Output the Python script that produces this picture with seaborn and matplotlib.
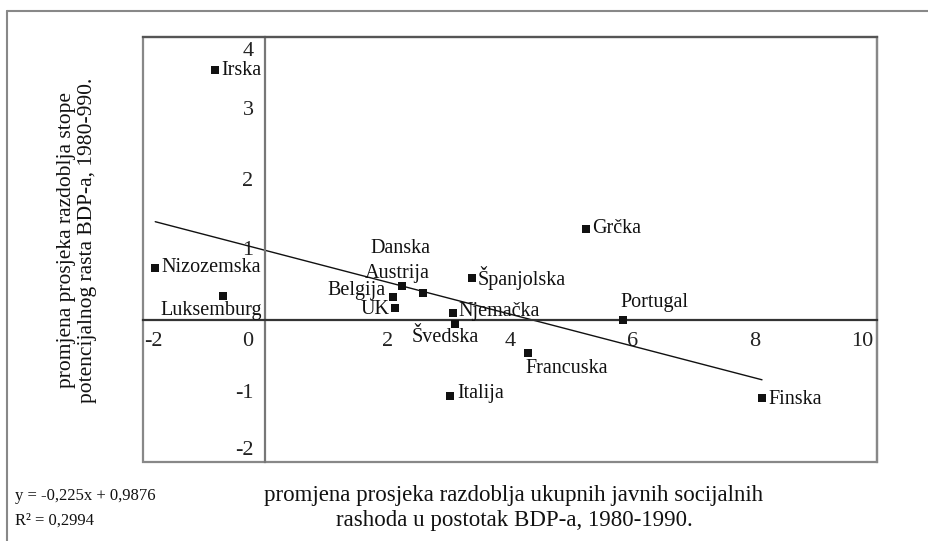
import matplotlib
matplotlib.use('Agg')
import matplotlib.pyplot as plt
import matplotlib.transforms as mtransforms
from matplotlib.patches import Rectangle
from matplotlib.lines import Line2D
import seaborn as sns

# podaci (procjena s grafikona)
zemlje = ['Irska', 'Nizozemska', 'Luksemburg', 'Belgija', 'UK', 'Danska', 'Austrija',
          'Španjolska', 'Njemačka', 'Švedska', 'Italija', 'Francuska', 'Grčka',
          'Portugal', 'Finska']
socijalni_rashodi = [-0.82, -1.80, -0.69, 2.08, 2.12, 2.24, 2.57,
                     3.38, 3.07, 3.10, 3.02, 4.30, 5.24, 5.85, 8.12]
rast_bdp = [3.53, 0.74, 0.35, 0.33, 0.17, 0.48, 0.39,
            0.60, 0.11, -0.05, -1.07, -0.46, 1.29, 0.01, -1.09]

# položaj oznaka u odnosu na točku (pikseli) i poravnanje
pomaci = [(6, 0), (6, 0), (39, -15), (-7, 6), (-5, -1), (-2, 38), (-25, 19),
          (6, 0), (5, 1), (-10, -14), (7, 3), (-3, -16), (6, 0), (-3, 17), (6, -2)]
poravnanje = ['left', 'left', 'right', 'right', 'right', 'center', 'center',
              'left', 'left', 'center', 'left', 'left', 'left', 'left', 'left']

# linija trenda (jednadžba s grafikona)
nagib = -0.225
odsjecak = 0.9876

x_ticks = [-2, 0, 2, 4, 6, 8, 10]
y_ticks = [-2, -1, 1, 2, 3, 4]

sns.set_style('white')
plt.rcParams['font.family'] = ['Liberation Serif', 'DejaVu Serif']

fig = plt.figure(figsize=(9.29, 5.41), dpi=100)
ax = fig.add_axes([143 / 929, 79 / 541, 734 / 929, 425 / 541])

sns.scatterplot(x=socijalni_rashodi, y=rast_bdp, marker='s', s=34, color='#111111',
                linewidth=0, ax=ax, zorder=3)

x_lin = [min(socijalni_rashodi), max(socijalni_rashodi)]
y_lin = [nagib * v + odsjecak for v in x_lin]
sns.lineplot(x=x_lin, y=y_lin, color='#111111', linewidth=1, ax=ax)

for naziv, xv, yv, (dx, dy), ha in zip(zemlje, socijalni_rashodi, rast_bdp, pomaci, poravnanje):
    ax.annotate(naziv, (xv, yv), xytext=(dx, dy), textcoords='offset pixels',
                ha=ha, va='center', fontsize=14.5, color='#111111')

ax.set_xlim(-2, 10)
ax.set_ylim(-2, 4)

# osi kroz nulu
ax.spines['left'].set_position(('data', 0))
ax.spines['bottom'].set_position(('data', 0))
ax.spines['left'].set_color('#777777')
ax.spines['bottom'].set_color('#333333')
ax.spines['bottom'].set_linewidth(1.6)
ax.spines['left'].set_linewidth(1.6)
for s in ['top', 'right']:
    ax.spines[s].set_color('#888888')
    ax.spines[s].set_linewidth(1.6)
ax.spines['top'].set_color('#555555')
ax.add_patch(Rectangle((0, 0), 1, 1, transform=ax.transAxes, fill=False,
                       edgecolor='#888888', linewidth=1.6, clip_on=False, zorder=0))

ax.set_xticks(x_ticks)
ax.set_xticklabels([str(v) for v in x_ticks])
ax.set_yticks(y_ticks)
ax.set_yticklabels([str(v) for v in y_ticks])
ax.tick_params(axis='both', direction='out', length=3.5, width=1, color='#222222',
               labelsize=16, labelcolor='#222222')
ax.tick_params(axis='x', pad=5)
ax.tick_params(axis='y', pad=5)
ax.set_xlabel('')
ax.set_ylabel('')


def pomakni(lbl, dx, dy):
    lbl.set_transform(lbl.get_transform() +
                      mtransforms.ScaledTranslation(dx / 100, dy / 100, fig.dpi_scale_trans))


xl = ax.get_xticklabels()
xl[0].set_ha('left')
pomakni(xl[0], 1, 0)
xl[1].set_ha('right')
pomakni(xl[1], -12, 0)
xl[-1].set_ha('right')
pomakni(xl[-1], -4, 0)

yl = ax.get_yticklabels()
yl[0].set_va('bottom')
pomakni(yl[0], 0, 2)
pomakni(yl[2], 0, 2)
yl[-1].set_va('top')
pomakni(yl[-1], 0, -5)

# naslovi osi
fig.text(77 / 929, 1 - 240 / 541,
         'promjena prosjeka razdoblja stope\npotencijalnog rasta BDP-a, 1980-990.',
         rotation=90, ha='center', va='center', multialignment='center',
         fontsize=15.5, linespacing=1.2, color='#111111')
fig.text(514 / 929, 1 - 508 / 541,
         'promjena prosjeka razdoblja ukupnih javnih socijalnih\nrashoda u postotak BDP-a, 1980-1990.',
         ha='center', va='center', multialignment='center',
         fontsize=16.5, linespacing=1.25, color='#111111')
fig.text(15 / 929, 1 - 508 / 541, 'y = -0,225x + 0,9876\nR² = 0,2994',
         ha='left', va='center', fontsize=12, linespacing=1.75, color='#111111')

# vanjski okvir
fig.add_artist(Line2D([7 / 929, 7 / 929], [0, 1 - 11 / 541], transform=fig.transFigure,
                      color='#888888', linewidth=1.5))
fig.add_artist(Line2D([7 / 929, 1], [1 - 11 / 541, 1 - 11 / 541], transform=fig.transFigure,
                      color='#888888', linewidth=1.5))

fig.savefig('out.png', dpi=100)
plt.close()
